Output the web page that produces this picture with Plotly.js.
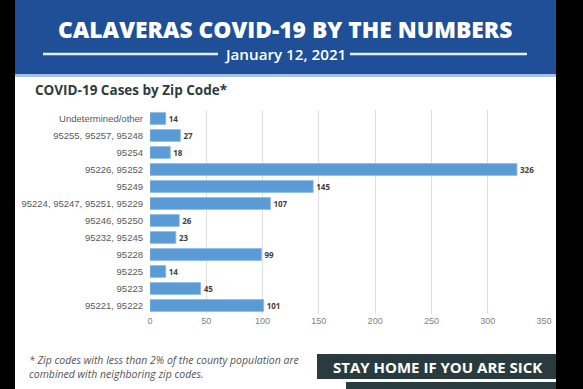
<!DOCTYPE html>
<html><head><meta charset="utf-8">
<script src="https://cdn.plot.ly/plotly-3.0.1.min.js"></script>
<style>html,body{margin:0;padding:0;background:#000;}#chart{width:583px;height:389px;}</style>
</head><body><div id="chart"></div>
<script>
const categories = ["Undetermined/other","95255, 95257, 95248","95254","95226, 95252","95249","95224, 95247, 95251, 95229","95246, 95250","95232, 95245","95228","95225","95223","95221, 95222"];
const cases = [14,27,18,326,145,107,26,23,99,14,45,101];
const xTicks = [0,50,100,150,200,250,300,350];
const titleText = "CALAVERAS COVID-19 BY THE NUMBERS";
const dateText = "January 12, 2021";
const subtitleText = "COVID-19 Cases by Zip Code*";
const footnoteText = "* Zip codes with less than 2% of the county population are<br>combined with neighboring zip codes.";
const bannerText = "STAY HOME IF YOU ARE SICK";

const W=583,H=389,L=150,R=39,T=110,B=75;
const px=p=>(p-L)/(W-L-R);
const py=p=>(H-B-p)/(H-T-B);
const rect=(x0,y0,x1,y1,color,layer)=>({type:'rect',xref:'paper',yref:'paper',x0:px(x0),x1:px(x1),y0:py(y0),y1:py(y1),fillcolor:color,line:{width:0},layer:layer||'below'});
const hline=(x0,x1,y,color,w)=>({type:'line',xref:'paper',yref:'paper',x0:px(x0),x1:px(x1),y0:py(y),y1:py(y),line:{color:color,width:w},layer:'above'});
const ann=(text,x,y,xa,ya,font,extra)=>Object.assign({text:text,xref:'paper',yref:'paper',x:px(x),y:py(y),xanchor:xa,yanchor:ya,showarrow:false,font:font},extra||{});

const trace={type:'bar',orientation:'h',y:categories,x:cases,
  marker:{color:'#5b9bd5',line:{color:'#8fbbe6',width:0.8}},
  text:cases.map(String),textposition:'outside',cliponaxis:false,
  textfont:{family:'Open Sans, sans-serif',size:8,color:'#404040',weight:'bold'},
  hoverinfo:'none'};

const layout={width:W,height:H,margin:{l:L,r:R,t:T,b:B,pad:0},
  paper_bgcolor:'#000',plot_bgcolor:'rgba(0,0,0,0)',showlegend:false,bargap:0.3,
  xaxis:{range:[0,350],tickvals:xTicks,showgrid:true,gridcolor:'#dedede',gridwidth:1,zeroline:false,showline:false,
    ticks:'',tickfont:{family:'Liberation Sans, Arial, sans-serif',size:9,color:'#7f7f7f'},fixedrange:true},
  yaxis:{type:'category',autorange:'reversed',showgrid:false,zeroline:false,showline:false,ticks:'',ticklabelstandoff:6,
    tickfont:{family:'Liberation Sans, Arial, sans-serif',size:9.5,color:'#595959'},fixedrange:true},
  shapes:[
    rect(15,0,556,389,'#ffffff'),
    rect(15,0,556,74,'#1f4f97'),
    rect(15,74,556,77,'#a3c0e6'),
    rect(317,354,556,379,'#2a3b40','above'),
    rect(346,382,556,392,'#2a3b40','above'),
    hline(43,218,54,'#e6edf7',2.5),
    hline(350,527,54,'#e6edf7',2.5)
  ],
  annotations:[
    ann(titleText,285,29,'center','middle',{family:'Open Sans, sans-serif',size:22.8,color:'#ffffff',weight:800},{height:24}),
    ann(dateText,285,54,'center','middle',{family:'Open Sans, sans-serif',size:15.2,color:'#ffffff',weight:600},{height:20}),
    ann(subtitleText,33,90,'left','middle',{family:'Open Sans, sans-serif',size:13.5,color:'#2f3b3f',weight:'bold'}),
    ann(footnoteText,27,367,'left','middle',{family:'Open Sans, sans-serif',size:10.5,color:'#555555',style:'italic'},{align:'left'}),
    ann(bannerText,437,367,'center','middle',{family:'Open Sans, sans-serif',size:15,color:'#ffffff',weight:'bold'})
  ]};
Plotly.newPlot('chart',[trace],layout,{displayModeBar:false,staticPlot:true});
</script></body></html>
